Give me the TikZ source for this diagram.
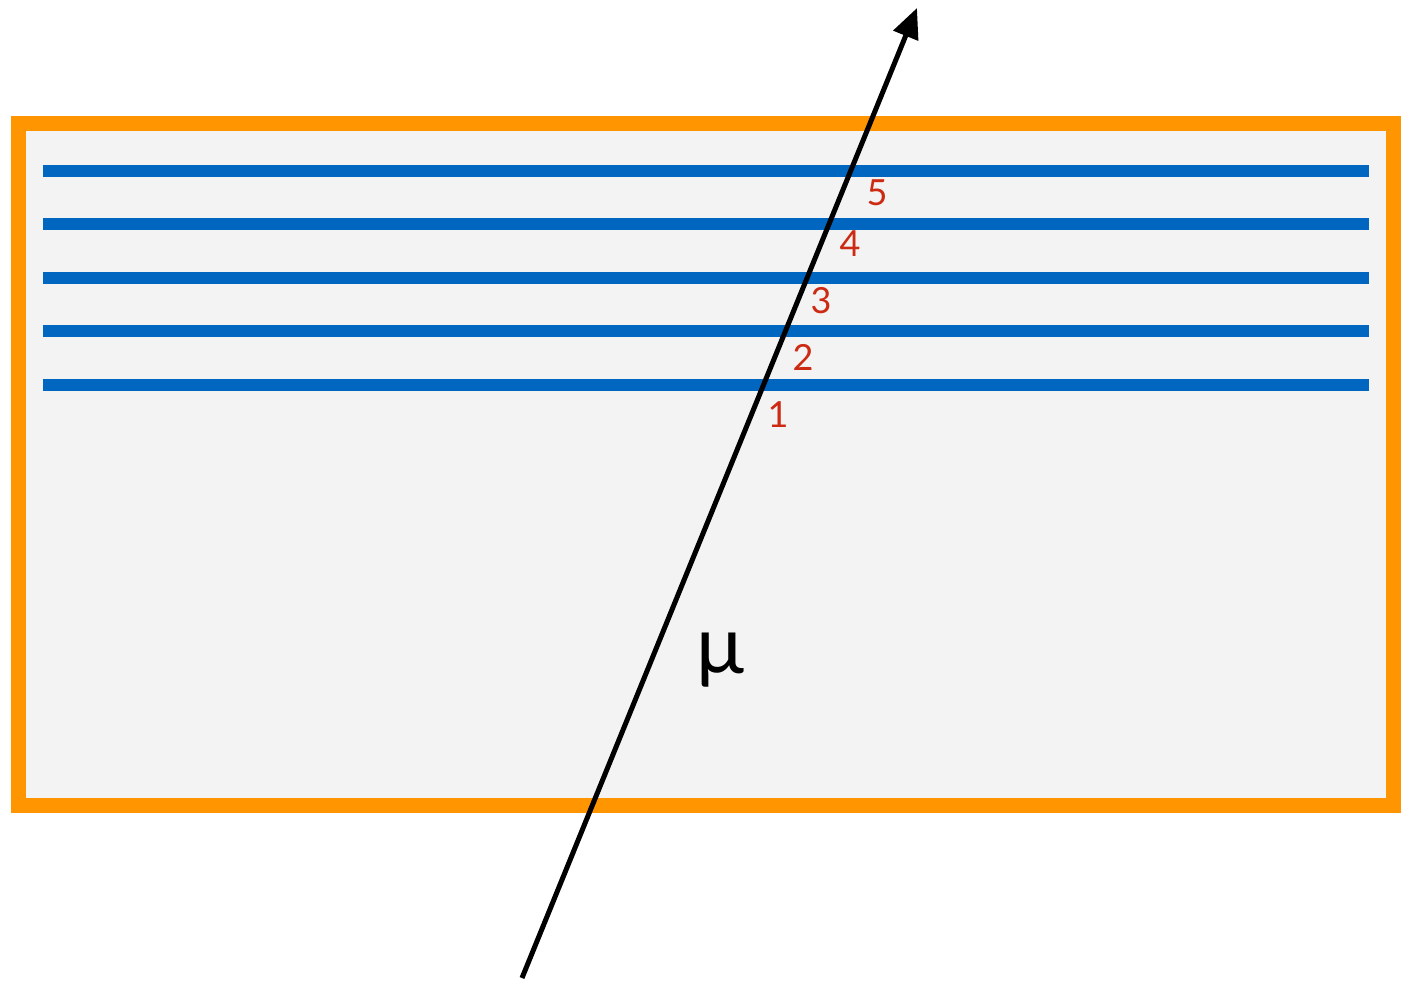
\documentclass[tikz,border=0pt]{standalone}
\usepackage{fontspec}
\setmainfont{Lato}
\usetikzlibrary{arrows.meta}
\definecolor{frameorange}{HTML}{FF9500}
\definecolor{layerblue}{HTML}{0066C0}
\definecolor{labelred}{HTML}{CC2A12}
\definecolor{innergray}{HTML}{F3F3F3}
\tikzset{
  layer/.style={draw=layerblue, line width=12pt},
  numlabel/.style={text=labelred, font=\fontsize{36}{38}\selectfont, inner sep=0pt, anchor=center},
  track/.style={draw=black, line width=5pt, -{Triangle[length=30pt,width=26pt]}},
}
\begin{document}
\begin{tikzpicture}[x=1pt,y=-1pt]
\useasboundingbox (0,0) rectangle (1406,982);
\fill[white] (0,0) rectangle (1406,982);
% frame
\draw[frameorange, line width=15pt, fill=innergray] (18.5,123.5) rectangle (1393.5,805.5);
% layers
\foreach \i/\y in {1/385,2/331,3/278,4/224,5/171}{
  \coordinate (l\i w) at (43,\y);
  \coordinate (l\i e) at (1369,\y);
  \draw[layer] (l\i w) -- (l\i e);
}
% labels
\node[numlabel] (n5) at (877,193) {5};
\node[numlabel] (n4) at (850,244) {4};
\node[numlabel] (n3) at (821,301) {3};
\node[numlabel] (n2) at (803,357) {2};
\node[numlabel] (n1) at (778,415) {1};
% muon track
\coordinate (tail) at (522,978);
\coordinate (head) at (917,8);
\draw[track] (tail) -- (head);
\node[inner sep=0pt, font=\fontsize{80}{90}\selectfont] (mu) at (720,660) {μ};
\end{tikzpicture}
\end{document}
